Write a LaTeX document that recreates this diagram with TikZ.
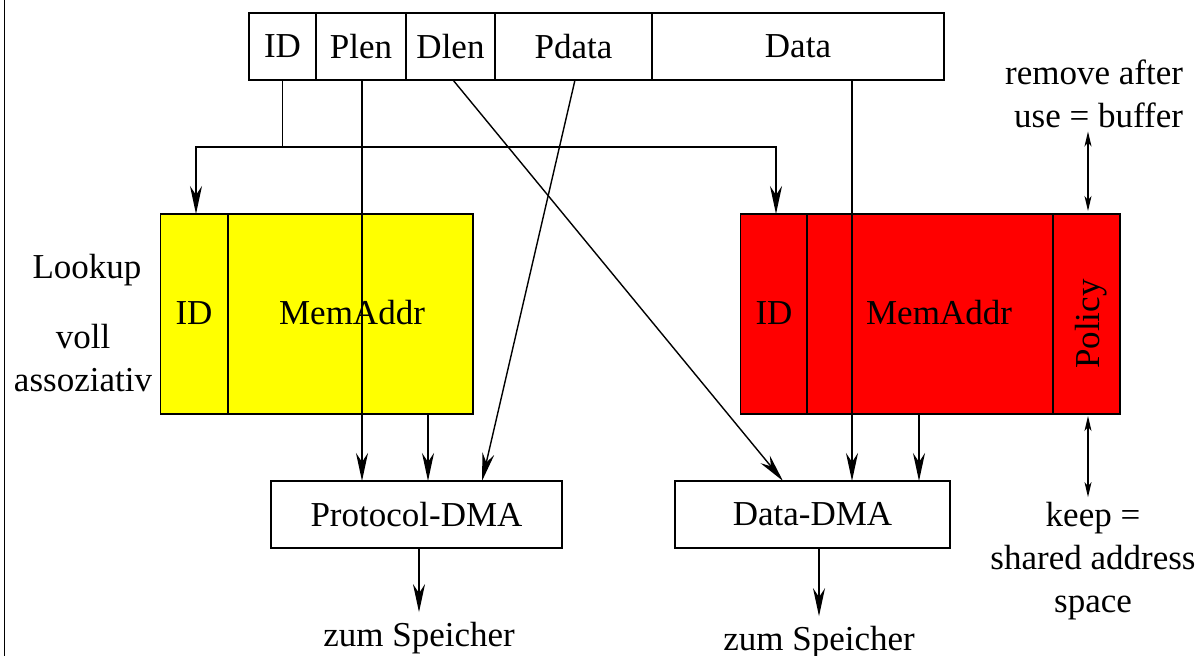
\documentclass[tikz,border=0pt]{standalone}
\usepackage{fontspec}
\setmainfont{Liberation Serif}
\usetikzlibrary{arrows.meta,calc}
\definecolor{yel}{RGB}{255,255,0}
\definecolor{rd}{RGB}{255,0,0}
\begin{document}
\begin{tikzpicture}[x=1pt,y=-1pt,
  every node/.style={font=\fontsize{35}{43}\selectfont, inner sep=0pt, outer sep=0pt},
  cell/.style={draw, line width=1.4pt, minimum height=67pt},
  box/.style={draw, line width=1.4pt},
  line/.style={line width=1.4pt},
  conn/.style={line width=1.4pt, -{Stealth[length=28pt,width=12pt,inset=9pt]}},
  dbl/.style={line width=1.2pt, {Stealth[length=15pt,width=7pt,inset=4pt]}-{Stealth[length=15pt,width=7pt,inset=4pt]}}]
\useasboundingbox (0,0) rectangle (1197,656);
\draw[line] (4.5,0) -- (4.5,656);

% header
\node[cell, minimum width=67pt]  (hID)    at (282.5,46.5) {ID};
\node[cell, minimum width=90pt]  (hPlen)  at (361,46.5)   {Plen};
\node[cell, minimum width=89pt]  (hDlen)  at (450.5,46.5) {Dlen};
\node[cell, minimum width=157pt] (hPdata) at (573.5,46.5) {Pdata};
\node[cell, minimum width=292pt] (hData)  at (798,46.5)   {Data};

% tables
\node[box, fill=yel, minimum width=312.5pt, minimum height=200pt] (ytab) at (316.75,314) {};
\draw[line] ($(ytab.north west)+(67.5,0)$) -- ($(ytab.south west)+(67.5,0)$);
\node (yid) at (194,313) {ID};
\node (yma) at (352,313) {MemAddr};

\node[box, fill=rd, minimum width=379.5pt, minimum height=200pt] (rtab) at (930.25,314) {};
\draw[line] ($(rtab.north west)+(66.5,0)$) -- ($(rtab.south west)+(66.5,0)$);
\draw[line] ($(rtab.north west)+(312.5,0)$) -- ($(rtab.south west)+(312.5,0)$);
\node (rid) at (774,313) {ID};
\node (rma) at (939,313) {MemAddr};
\node[rotate=90] (rpol) at (1091,324) {Policy};

% DMA boxes
\node[box, minimum width=291pt, minimum height=67pt] (pdma) at (416.5,514.5) {Protocol-DMA};
\node[box, minimum width=275pt, minimum height=67pt] (ddma) at (812.5,514.5) {Data-DMA};

% labels
\node (lookup) at (87,270) {Lookup};
\node[align=center] (voll) at (83,358.5) {voll\\assoziativ};
\node[align=right, anchor=east] (rem) at (1183,93.5) {remove after\\use = buffer};
\node[align=center] (keep) at (1093,561) {keep =\\shared address\\space};
\node (zs1) at (419,638) {zum Speicher};
\node (zs2) at (819,642) {zum Speicher};

% connectors
\coordinate (idj) at (282.5,147);
\draw[line] (hID.south) -- (idj);
\draw[conn] (idj) -| ($(ytab.north west)+(35.5,0)$);
\draw[conn] (idj) -| ($(rtab.north west)+(35.5,0)$);
\draw[conn] ($(hPlen.south)+(1,0)$) -- ($(pdma.north west)+(91,0)$);
\draw[conn] ($(hPdata.south)+(1.5,0)$) -- ($(pdma.north east)+(-80,0)$);
\draw[conn] ($(hDlen.south)+(2.5,0)$) -- ($(ddma.north west)+(108,0)$);
\draw[conn] ($(hData.south)+(54,0)$) -- ($(ddma.north west)+(177,0)$);
\draw[conn] ($(ytab.south west)+(267.5,0)$) -- ($(pdma.north west)+(157,0)$);
\draw[conn] ($(rtab.south west)+(178.5,0)$) -- ($(ddma.north west)+(244,0)$);
\draw[conn] (zs1.north |- pdma.south) -- ($(zs1.north)+(0,-10)$);
\draw[conn] (zs2.north |- ddma.south) -- ($(zs2.north)+(0,-10)$);
\coordinate (polx) at (1088,0);
\draw[dbl] ($(polx |- rem.south)+(0,4)$) -- ($(polx |- rtab.north)+(0,-3)$);
\draw[dbl] ($(polx |- rtab.south)+(0,2)$) -- ($(polx |- keep.north)+(0,-5)$);
\end{tikzpicture}
\end{document}
